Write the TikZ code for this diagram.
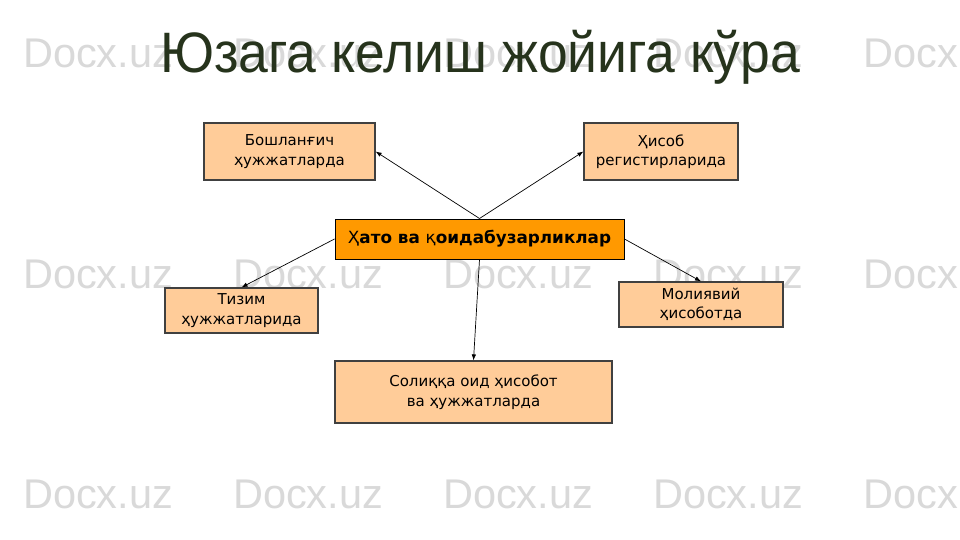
\documentclass[tikz,border=0pt]{standalone}
\usepackage{fontspec}
\setmainfont{DejaVu Sans}
\newfontfamily\titlefont{Liberation Sans}
\usetikzlibrary{arrows.meta}
\definecolor{peach}{RGB}{255,204,153}
\definecolor{orangebox}{RGB}{255,153,0}
\definecolor{titlecol}{RGB}{38,51,28}
\definecolor{wmark}{RGB}{217,217,217}
\definecolor{boxline}{RGB}{64,64,64}
\tikzset{
  wm/.style={anchor=base west, inner sep=0pt, text=wmark, font=\titlefont\fontsize{41.5}{41.5}\selectfont},
  infobox/.style={draw=boxline, line width=1.2pt, fill=peach, inner sep=0pt, align=center, font=\fontsize{15}{19.5}\selectfont},
  mainbox/.style={draw=black, line width=1pt, fill=orangebox, inner sep=0pt, align=center, font=\bfseries\fontsize{16.8}{18}\selectfont},
  conn/.style={draw=black, line width=0.7pt, -{Latex[length=6pt,width=4.5pt]}}
}
\begin{document}
\begin{tikzpicture}[x=1pt,y=-1pt]
\useasboundingbox[fill=white] (0,0) rectangle (960,540);
% watermarks
\foreach \yy [count=\r] in {68,288,508}{
  \foreach \xx [count=\c] in {23,233,443,653,863}{
    \node[wm] (wm\r\c) at (\xx,\yy) {Docx.uz};
  }
}
% title
\node[anchor=base west, inner sep=0pt, text=titlecol, font=\titlefont\fontsize{57}{57}\selectfont] (title) at (160,73) {\resizebox{640pt}{\height}{Юзага келиш жойига кўра}};
% boxes
\node[mainbox, minimum width=289pt, minimum height=40pt] (c) at (479.5,239) {{\mdseries Ҳ}ато ва {\mdseries қ}оидабузарликлар};
\node[infobox, minimum width=171pt, minimum height=57pt] (b1) at (289.5,151.5) {Бошланғич\\ ҳужжатларда};
\node[infobox, minimum width=154pt, minimum height=57pt] (b2) at (661,151.5) {Ҳисоб\\регистирларида};
\node[infobox, minimum width=153pt, minimum height=45pt] (b3) at (241.5,310.5) {Тизим\\ҳужжатларида};
\node[infobox, minimum width=164pt, minimum height=45pt] (b4) at (701,304.5) {Молиявий\\ҳисоботда};
\node[infobox, minimum width=277pt, minimum height=62pt] (b5) at (473.5,392) {Солиққа оид ҳисобот\\ва ҳужжатларда};
% connectors
\draw[conn] (c.north) -- (b1.east);
\draw[conn] (c.north) -- (b2.west);
\draw[conn] (c.west) -- (b3.north);
\draw[conn] (c.east) -- (b4.north);
\draw[conn] (c.south) -- (b5.north);
\end{tikzpicture}
\end{document}
